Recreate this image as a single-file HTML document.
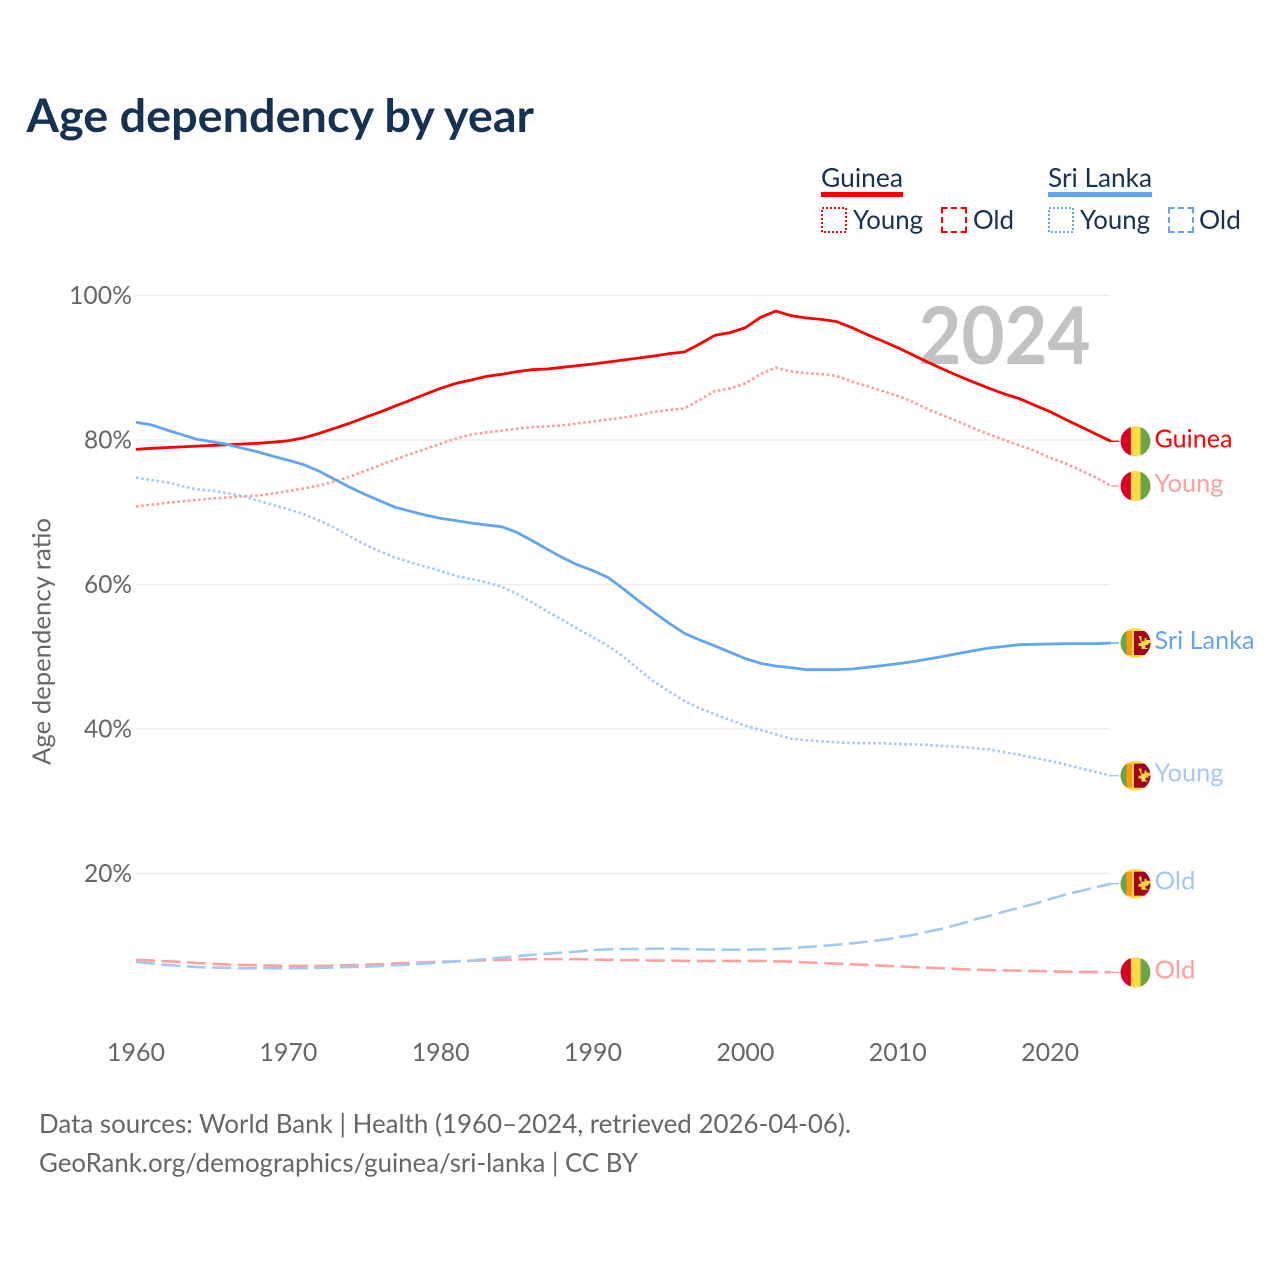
<!DOCTYPE html>
<html lang="en">
<head>
<meta charset="utf-8">
<title>Age dependency by year</title>
<style>
html,body{margin:0;padding:0;background:#fff;}
svg{display:block;}
text{font-family:"Lato","Carlito","Liberation Sans",sans-serif;}
</style>
</head>
<body>
<svg id="chart" xmlns="http://www.w3.org/2000/svg" width="1280" height="1280" viewBox="0 0 1280 1280">
  <defs>
    <clipPath id="flag-clip"><circle cx="0" cy="0" r="15"/></clipPath>
  </defs>
  <rect width="1280" height="1280" fill="#fff"/>
  <text x="26.5" y="132" font-size="46" font-weight="700" fill="#163253" textLength="507.5" lengthAdjust="spacingAndGlyphs">Age dependency by year</text>

  <g>
    <text x="821" y="187" font-size="26" fill="#163253" textLength="82" lengthAdjust="spacingAndGlyphs">Guinea</text>
    <rect x="821" y="192" width="82" height="5" fill="#ff0000"/>
    <rect x="822" y="208" width="24" height="24" fill="none" stroke="#ff0000" stroke-width="2" stroke-dasharray="2 2"/>
    <text x="853" y="229" font-size="26" fill="#163253" textLength="70" lengthAdjust="spacingAndGlyphs">Young</text>
    <rect x="942" y="208" width="24" height="24" fill="none" stroke="#ff0000" stroke-width="2" stroke-dasharray="11 3.5 6 3.5" stroke-dashoffset="5.5"/>
    <text x="973" y="229" font-size="26" fill="#163253" textLength="41" lengthAdjust="spacingAndGlyphs">Old</text>

    <text x="1048" y="187" font-size="26" fill="#163253" textLength="104" lengthAdjust="spacingAndGlyphs">Sri Lanka</text>
    <rect x="1048" y="192" width="104" height="5" fill="#63a6ef"/>
    <rect x="1049" y="208" width="24" height="24" fill="none" stroke="#63a6ef" stroke-width="2" stroke-dasharray="2 2"/>
    <text x="1080" y="229" font-size="26" fill="#163253" textLength="70" lengthAdjust="spacingAndGlyphs">Young</text>
    <rect x="1169" y="208" width="24" height="24" fill="none" stroke="#63a6ef" stroke-width="2" stroke-dasharray="11 3.5 6 3.5" stroke-dashoffset="5.5"/>
    <text x="1199" y="229" font-size="26" fill="#163253" textLength="42" lengthAdjust="spacingAndGlyphs">Old</text>
  </g>

  <g id="grid"></g>
  <text x="1090.5" y="364" text-anchor="end" font-size="80" font-weight="700" fill="#c2c2c2" textLength="172" lengthAdjust="spacingAndGlyphs">2024</text>
  <g id="y-ticks"></g>
  <g id="x-ticks"></g>
  <text transform="translate(50.5,765) rotate(-90)" font-size="25" fill="#666666" textLength="247" lengthAdjust="spacingAndGlyphs">Age dependency ratio</text>
  <g id="series"></g>
  <g id="end-labels"></g>

  <text x="39" y="1133" font-size="26" fill="#666666" textLength="812" lengthAdjust="spacingAndGlyphs">Data sources: World Bank | Health (1960–2024, retrieved 2026-04-06).</text>
  <text x="39" y="1172" font-size="26" fill="#666666" textLength="599" lengthAdjust="spacingAndGlyphs">GeoRank.org/demographics/guinea/sri-lanka | CC BY</text>
</svg>
<script>
var startYear = 1960;
var xTickYears = [1960, 1970, 1980, 1990, 2000, 2010, 2020];
var yTickValues = [20, 40, 60, 80, 100];
var yTickLabels = ["20%", "40%", "60%", "80%", "100%"];

var guineaTotal = [
  78.7,78.85,78.95,79.05,79.15,79.25,79.35,79.45,79.55,79.7,
  79.9,80.3,80.9,81.6,82.3,83.1,83.85,84.7,85.5,86.35,
  87.15,87.84,88.3,88.81,89.09,89.46,89.73,89.83,90.06,90.29,
  90.52,90.8,91.07,91.35,91.63,91.95,92.18,93.29,94.49,94.86,
  95.55,96.98,97.85,97.21,96.89,96.7,96.38,95.55,94.58,93.7,
  92.78,91.76,90.75,89.78,88.86,87.98,87.15,86.37,85.72,84.8,
  83.92,82.86,81.85,80.83,79.82
];
var guineaYoung = [
  70.8,71.05,71.3,71.5,71.7,71.9,72.05,72.2,72.3,72.6,
  72.95,73.3,73.7,74.25,74.9,75.7,76.5,77.3,78.05,78.75,
  79.5,80.2,80.74,81.06,81.29,81.57,81.8,81.89,82.03,82.31,
  82.54,82.86,83.09,83.46,83.88,84.15,84.38,85.54,86.78,87.15,
  87.84,89.13,90.01,89.5,89.23,89.13,88.86,88.07,87.47,86.78,
  86.09,85.26,84.25,83.37,82.54,81.62,80.78,80.0,79.26,78.48,
  77.55,76.77,75.8,74.83,73.63
];
var guineaOld = [
  8.03,7.95,7.85,7.75,7.6,7.5,7.4,7.35,7.3,7.25,
  7.2,7.2,7.2,7.25,7.3,7.35,7.45,7.55,7.65,7.7,
  7.8,7.85,7.9,8.0,8.05,8.1,8.15,8.15,8.15,8.15,
  8.1,8.05,8.0,8.0,7.95,7.95,7.9,7.9,7.9,7.9,
  7.9,7.9,7.85,7.8,7.7,7.61,7.52,7.43,7.34,7.24,
  7.15,7.06,6.97,6.87,6.78,6.69,6.64,6.6,6.55,6.51,
  6.46,6.41,6.37,6.37,6.32
];
var sriLankaTotal = [
  82.45,82.1,81.4,80.75,80.1,79.75,79.4,78.85,78.35,77.75,
  77.2,76.6,75.7,74.6,73.5,72.5,71.6,70.7,70.15,69.6,
  69.15,68.84,68.51,68.24,68.0,67.22,66.07,64.87,63.71,62.7,
  61.91,60.95,59.38,57.72,56.15,54.63,53.24,52.32,51.49,50.61,
  49.74,49.09,48.7,48.49,48.21,48.21,48.21,48.3,48.54,48.77,
  49.04,49.32,49.69,50.06,50.47,50.84,51.21,51.44,51.67,51.72,
  51.76,51.81,51.81,51.81,51.9
];
var sriLankaYoung = [
  74.79,74.46,74.14,73.63,73.17,72.99,72.62,72.25,71.6,71.0,
  70.4,69.76,68.88,67.87,66.71,65.56,64.59,63.71,63.07,62.47,
  61.87,61.18,60.76,60.3,59.7,58.69,57.53,56.24,55.09,53.84,
  52.69,51.49,50.01,48.26,46.55,45.17,43.88,42.86,42.03,41.25,
  40.46,39.86,39.26,38.66,38.43,38.29,38.15,38.06,38.06,38.02,
  37.92,37.88,37.79,37.65,37.55,37.37,37.19,36.77,36.45,35.99,
  35.57,35.11,34.56,34.05,33.54
];
var sriLankaOld = [
  7.75,7.55,7.35,7.2,7.05,7.0,6.95,6.9,6.9,6.9,
  6.9,6.9,6.95,7.0,7.05,7.1,7.2,7.3,7.4,7.55,
  7.7,7.85,7.95,8.15,8.35,8.55,8.75,8.9,9.05,9.2,
  9.4,9.5,9.55,9.55,9.6,9.6,9.55,9.5,9.45,9.45,
  9.45,9.5,9.55,9.64,9.83,9.97,10.15,10.33,10.57,10.8,
  11.17,11.49,11.95,12.41,12.96,13.61,14.12,14.72,15.27,15.82,
  16.47,17.07,17.58,18.09,18.59
];

var NS = "http://www.w3.org/2000/svg";
function xScale(year) { return 136 + (year - 1960) * 15.235; }
function yScale(value) { return 1018 - value * 7.225; }

function make(parent, tag, attrs) {
  var el = document.createElementNS(NS, tag);
  for (var k in attrs) { el.setAttribute(k, attrs[k]); }
  parent.appendChild(el);
  return el;
}

var gridGroup = document.getElementById("grid");
var yTickGroup = document.getElementById("y-ticks");
var xTickGroup = document.getElementById("x-ticks");
var seriesGroup = document.getElementById("series");
var endGroup = document.getElementById("end-labels");

yTickValues.forEach(function (v, i) {
  var line = make(gridGroup, "line", {x1: 136, x2: 1110, y1: yScale(v), y2: yScale(v), stroke: "#eeeeee", "stroke-width": 1.6});
  
  
  var t = make(yTickGroup, "text", {x: 132, y: yScale(v) + 8.5, "text-anchor": "end", "font-size": 25, fill: "#666666", textLength: v === 100 ? 63 : 48, lengthAdjust: "spacingAndGlyphs"});
  
  
  t.textContent = yTickLabels[i];
});

xTickYears.forEach(function (year) {
  var t = make(xTickGroup, "text", {x: xScale(year), y: 1061, "text-anchor": "middle", "font-size": 25, fill: "#666666", textLength: 58, lengthAdjust: "spacingAndGlyphs"});
  
  
  t.textContent = String(year);
});

function drawLine(values, color, dash, width, name) {
  var pts = values.map(function (v, i) {
    return xScale(startYear + i).toFixed(2) + "," + yScale(v).toFixed(2);
  });
  var attrs = {points: pts.join(" "), fill: "none", stroke: color, "stroke-width": width, "stroke-linejoin": "round"};
  if (dash) { attrs["stroke-dasharray"] = dash; }
  var line = make(seriesGroup, "polyline", attrs);
  
  
  var endY = yScale(values[values.length - 1]);
  var connector = make(seriesGroup, "line", {x1: xScale(startYear + values.length - 1), x2: 1119, y1: endY, y2: endY, stroke: color, "stroke-width": 1.4});
  
  
}

drawLine(guineaOld, "#ffa0a0", "19 6.5", 2.6, "line-guinea-old");
drawLine(sriLankaOld, "#a3c9f2", "19 6.5", 2.6, "line-sri-lanka-old");
drawLine(guineaYoung, "#ff9a9a", "2.6 2.6", 2.6, "line-guinea-young");
drawLine(sriLankaYoung, "#a3c9f2", "2.6 2.6", 2.6, "line-sri-lanka-young");
drawLine(guineaTotal, "#ff0000", null, 2.8, "line-guinea-total");
drawLine(sriLankaTotal, "#63a6ef", null, 2.8, "line-sri-lanka-total");

function drawGuineaFlag(group) {
  make(group, "rect", {x: -15, y: -15, width: 10.4, height: 30, fill: "#d80027"});
  make(group, "rect", {x: -4.6, y: -15, width: 9.6, height: 30, fill: "#ffda44"});
  make(group, "rect", {x: 5, y: -15, width: 10, height: 30, fill: "#6da544"});
}
function drawSriLankaFlag(group) {
  make(group, "rect", {x: -15, y: -15, width: 30, height: 30, fill: "#ffda44"});
  make(group, "rect", {x: -15, y: -12, width: 6, height: 24, fill: "#6da544"});
  make(group, "rect", {x: -9, y: -12, width: 5.7, height: 24, fill: "#ff9811"});
  make(group, "rect", {x: -1.5, y: -12, width: 16.5, height: 24, fill: "#a2001d"});
  make(group, "path", {d: "M3 -7h3v5h3v-3h2v2h4v3h-2v2h-3v3h2v1h-6v-3h-3v-3h3z", fill: "#ffda44"});
}

function drawEndLabel(values, flagFn, text, color, name) {
  var y = yScale(values[values.length - 1]);
  var g = make(endGroup, "g", {transform: "translate(1135.5," + y.toFixed(2) + ")", "clip-path": "url(#flag-clip)"});
  
  
  flagFn(g);
  var t = make(endGroup, "text", {x: 1154.5, y: y + 6, "font-size": 25, fill: color, textLength: text === "Guinea" ? 78 : text === "Sri Lanka" ? 100 : text === "Young" ? 69 : 41, lengthAdjust: "spacingAndGlyphs"});
  
  
  t.textContent = text;
}

drawEndLabel(guineaTotal, drawGuineaFlag, "Guinea", "#ff0000", "guinea-total");
drawEndLabel(guineaYoung, drawGuineaFlag, "Young", "#ff9f9f", "guinea-young");
drawEndLabel(sriLankaTotal, drawSriLankaFlag, "Sri Lanka", "#63a6ef", "sri-lanka-total");
drawEndLabel(sriLankaYoung, drawSriLankaFlag, "Young", "#a3c9f2", "sri-lanka-young");
drawEndLabel(sriLankaOld, drawSriLankaFlag, "Old", "#a3c9f2", "sri-lanka-old");
drawEndLabel(guineaOld, drawGuineaFlag, "Old", "#ff9f9f", "guinea-old");
</script>
</body>
</html>
